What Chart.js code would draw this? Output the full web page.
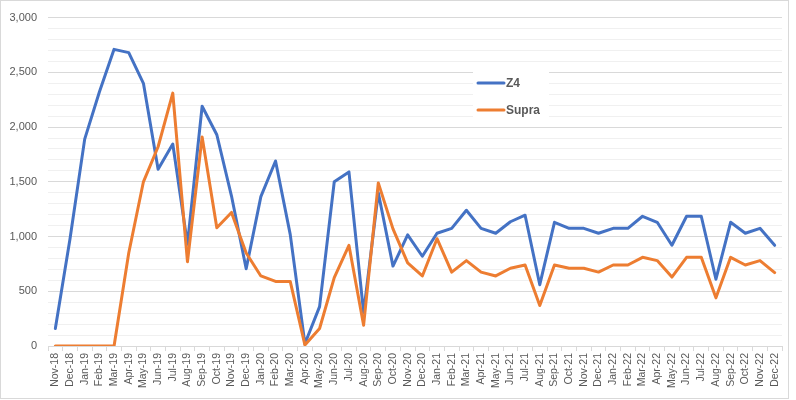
<!DOCTYPE html>
<html>
<head>
<meta charset="utf-8">
<script src="https://cdn.jsdelivr.net/npm/chart.js@4/dist/chart.umd.min.js"></script>
<style>
  html, body { margin: 0; padding: 0; background: #ffffff; }
  #wrap { width: 796px; height: 400px; position: relative; }
</style>
</head>
<body>
<div id="wrap"><canvas id="chart"></canvas></div>
<script>
// Months, Nov-18 .. Dec-22
const months = [
    'Nov-18', 'Dec-18',
    'Jan-19', 'Feb-19', 'Mar-19', 'Apr-19', 'May-19', 'Jun-19', 'Jul-19', 'Aug-19', 'Sep-19', 'Oct-19', 'Nov-19', 'Dec-19',
    'Jan-20', 'Feb-20', 'Mar-20', 'Apr-20', 'May-20', 'Jun-20', 'Jul-20', 'Aug-20', 'Sep-20', 'Oct-20', 'Nov-20', 'Dec-20',
    'Jan-21', 'Feb-21', 'Mar-21', 'Apr-21', 'May-21', 'Jun-21', 'Jul-21', 'Aug-21', 'Sep-21', 'Oct-21', 'Nov-21', 'Dec-21',
    'Jan-22', 'Feb-22', 'Mar-22', 'Apr-22', 'May-22', 'Jun-22', 'Jul-22', 'Aug-22', 'Sep-22', 'Oct-22', 'Nov-22', 'Dec-22'
];

const z4Sales = [
    160, 980,
    1890, 2320, 2710, 2680, 2400, 1615, 1845, 930, 2190, 1930, 1370, 705,
    1365, 1690, 1020, 20, 360, 1500, 1590, 305, 1400, 730, 1015, 820,
    1030, 1075, 1240, 1075, 1030, 1135, 1195, 560, 1130, 1075, 1075, 1030,
    1075, 1075, 1185, 1130, 920, 1185, 1185, 610, 1130, 1030, 1075, 920
];

const supraSales = [
    0, 0,
    0, 0, 0, 850, 1500, 1820, 2310, 770, 1910, 1080, 1220, 850,
    640, 590, 590, 10, 160, 625, 920, 190, 1490, 1070, 760, 640,
    980, 675, 780, 675, 640, 710, 740, 370, 740, 710, 710, 675,
    740, 740, 810, 780, 630, 810, 810, 440, 810, 740, 780, 670
];

const seriesNames = ['Z4', 'Supra'];
const seriesColors = ['#4472C4', '#ED7D31'];

const TEXT_COLOR = '#595959';
const GRID_MAJOR = '#d9d9d9';
const GRID_MINOR = '#f0f0f0';

// Legend inside the plot area, Excel style, plus the outer chart border
const excelDecor = {
    id: 'excelDecor',
    afterDraw(chart) {
        const ctx = chart.ctx;
        ctx.save();

        // legend box
        ctx.fillStyle = '#ffffff';
        ctx.fillRect(473, 72, 76, 51);
        const rows = [83, 110];
        chart.data.datasets.forEach((ds, i) => {
            const y = rows[i];
            ctx.strokeStyle = ds.borderColor;
            ctx.lineWidth = 3;
            ctx.lineCap = 'round';
            ctx.beginPath();
            ctx.moveTo(478, y);
            ctx.lineTo(504, y);
            ctx.stroke();
            ctx.fillStyle = TEXT_COLOR;
            ctx.font = 'bold 12px "Liberation Sans", Arial, sans-serif';
            ctx.textBaseline = 'middle';
            ctx.textAlign = 'left';
            ctx.fillText(ds.label, 506, y + 1);
        });

        // chart border
        ctx.strokeStyle = GRID_MAJOR;
        ctx.lineWidth = 1;
        ctx.strokeRect(0.5, 0.5, 788, 398);
        ctx.restore();
    }
};

const ctx = document.getElementById('chart').getContext('2d');
const chart = new Chart(ctx, {
    type: 'line',
    data: {
        labels: months,
        datasets: [
            {
                label: seriesNames[0],
                data: z4Sales,
                borderColor: seriesColors[0],
                backgroundColor: seriesColors[0],
                borderWidth: 3,
                pointRadius: 0,
                tension: 0,
                borderJoinStyle: 'round',
                borderCapStyle: 'round',
                order: 1
            },
            {
                label: seriesNames[1],
                data: supraSales,
                borderColor: seriesColors[1],
                backgroundColor: seriesColors[1],
                borderWidth: 3,
                pointRadius: 0,
                tension: 0,
                borderJoinStyle: 'round',
                borderCapStyle: 'round',
                order: 0
            }
        ]
    },
    options: {
        responsive: true,
        maintainAspectRatio: false,
        animation: false,
        layout: {
            padding: { top: 15, right: 14, bottom: 0, left: 0 }
        },
        plugins: {
            legend: { display: false },
            tooltip: { enabled: false }
        },
        scales: {
            x: {
                offset: true,
                grid: {
                    offset: true,
                    drawOnChartArea: false,
                    drawTicks: true,
                    tickLength: 5,
                    color: GRID_MAJOR
                },
                border: { color: GRID_MAJOR },
                ticks: {
                    autoSkip: false,
                    minRotation: 90,
                    maxRotation: 90,
                    padding: 2,
                    color: TEXT_COLOR,
                    font: { family: '"Liberation Sans", Arial, sans-serif', size: 10.5 }
                },
                afterFit(scale) {
                    scale.height = 54;
                }
            },
            y: {
                min: 0,
                max: 3000,
                grid: {
                    drawTicks: false,
                    color: (c) => (c.tick && c.tick.value % 500 === 0) ? GRID_MAJOR : GRID_MINOR
                },
                border: { display: false },
                ticks: {
                    stepSize: 100,
                    autoSkip: false,
                    padding: 11,
                    color: TEXT_COLOR,
                    font: { family: '"Liberation Sans", Arial, sans-serif', size: 11 },
                    callback: (v) => v % 500 === 0 ? v.toLocaleString('en-US') : ''
                },
                afterFit(scale) {
                    scale.width = 48;
                }
            }
        }
    },
    plugins: [excelDecor]
});
</script>
</body>
</html>
